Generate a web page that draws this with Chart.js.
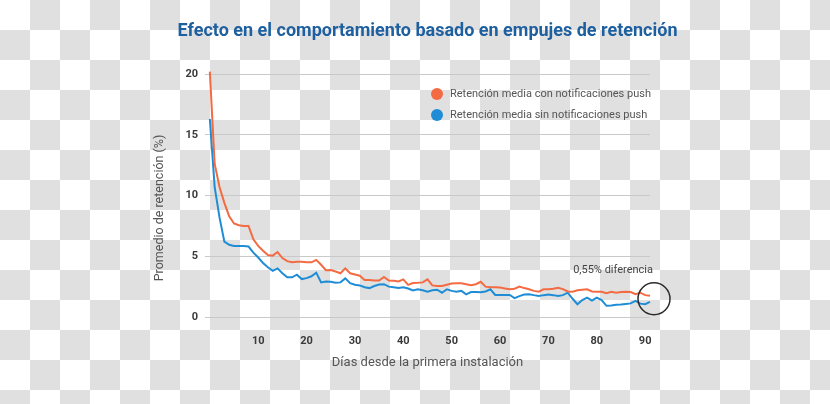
<!DOCTYPE html>
<html>
<head>
<meta charset="utf-8">
<script src="https://cdn.jsdelivr.net/npm/chart.js@4.4.0/dist/chart.umd.min.js"></script>
<style>
html, body {
    margin: 0;
    padding: 0;
}
body {
    width: 830px;
    height: 404px;
    background: repeating-conic-gradient(#e0e0e0 0 25%, #ffffff 0 50%) 0 0 / 60px 60px;
    overflow: hidden;
}
#wrap {
    width: 830px;
    height: 404px;
}
</style>
</head>
<body>
<div id="wrap"><canvas id="retencionChart" width="830" height="404"></canvas></div>
<script>
// dias desde la instalacion (0..91)
let dias = []
for (let d = 0; d <= 91; d++) dias.push(d)

let conPush = [20.2, 12.6, 10.7, 9.4, 8.3, 7.7, 7.55, 7.5, 7.5, 6.4,
    5.85, 5.45, 5.1, 5.05, 5.35, 4.85, 4.6, 4.5, 4.55, 4.55,
    4.5, 4.5, 4.7, 4.3, 3.85, 3.87, 3.75, 3.6, 4.0, 3.6,
    3.5, 3.4, 3.05, 3.05, 3.0, 3.0, 3.3, 3.0, 2.98, 2.92,
    3.1, 2.65, 2.8, 2.82, 2.85, 3.1, 2.6, 2.55, 2.55, 2.65,
    2.75, 2.78, 2.78, 2.7, 2.62, 2.7, 2.9, 2.5, 2.45, 2.44,
    2.42, 2.35, 2.28, 2.33, 2.5, 2.38, 2.28, 2.15, 2.08, 2.28,
    2.28, 2.32, 2.41, 2.3, 2.1, 2.08, 2.2, 2.25, 2.28, 2.1,
    2.08, 2.08, 1.95, 2.08, 2.0, 2.05, 2.08, 2.05, 1.88, 2.0,
    1.8, 1.75]

let sinPush = [16.3, 10.7, 8.2, 6.2, 5.95, 5.85, 5.85, 5.85, 5.8, 5.3,
    4.9, 4.45, 4.1, 3.8, 4.0, 3.6, 3.27, 3.27, 3.48, 3.12,
    3.2, 3.35, 3.65, 2.85, 2.93, 2.9, 2.82, 2.85, 3.18, 2.78,
    2.65, 2.6, 2.45, 2.38, 2.55, 2.68, 2.7, 2.5, 2.45, 2.38,
    2.45, 2.35, 2.18, 2.28, 2.2, 2.08, 2.2, 2.25, 2.0, 2.28,
    2.15, 2.08, 2.15, 1.87, 2.05, 2.05, 2.03, 2.1, 2.28, 1.82,
    1.82, 1.81, 1.81, 1.55, 1.72, 1.85, 1.88, 1.8, 1.73, 1.8,
    1.85, 1.8, 1.73, 1.8, 2.0, 1.5, 1.05, 1.4, 1.6, 1.35,
    1.6, 1.4, 0.92, 0.95, 1.0, 1.02, 1.07, 1.12, 1.32, 1.1,
    1.05, 1.25]

let seriesNames = ["Retención media con notificaciones push", "Retención media sin notificaciones push"]
let lineColors = ["#f26b43", "#1f8dd6"]
let xTicks = [10, 20, 30, 40, 50, 60, 70, 80, 90]
let yTicks = [0, 5, 10, 15, 20]
let titulo = "Efecto en el comportamiento basado en empujes de retención"
let diferencia = "0,55% diferencia"

const fontFam = "Roboto, 'Liberation Sans', sans-serif"

// leyenda dentro del area del grafico
const insideLegend = {
    id: "insideLegend",
    afterDraw(chart) {
        const ctx = chart.ctx
        const x = chart.chartArea.left + 232
        let y = chart.chartArea.top + 26
        ctx.save()
        ctx.font = "11px " + fontFam
        ctx.textBaseline = "middle"
        chart.data.datasets.forEach(ds => {
            ctx.fillStyle = ds.borderColor
            ctx.beginPath()
            ctx.arc(x, y, 6, 0, Math.PI * 2)
            ctx.fill()
            ctx.fillStyle = "#555555"
            ctx.fillText(ds.label, x + 13, y)
            y += 21
        })
        ctx.restore()
    }
}

// titulo, titulo del eje y y la anotacion del final
const extras = {
    id: "extras",
    afterDraw(chart) {
        const ctx = chart.ctx
        const area = chart.chartArea
        const xs = chart.scales.x
        const ys = chart.scales.y

        ctx.save()
        ctx.fillStyle = "#1d5f9f"
        ctx.font = "bold 18px " + fontFam
        ctx.textAlign = "center"
        ctx.textBaseline = "middle"
        ctx.fillText(titulo, (area.left + area.right) / 2, 31)
        ctx.restore()

        ctx.save()
        ctx.fillStyle = "#555555"
        ctx.font = "12.5px " + fontFam
        ctx.textAlign = "center"
        ctx.textBaseline = "middle"
        ctx.translate(160, 208)
        ctx.rotate(-Math.PI / 2)
        ctx.fillText("Promedio de retención (%)", 0, 0)
        ctx.restore()

        let last = dias.length - 1
        let cx = xs.getPixelForValue(dias[last]) + 4
        let cy = ys.getPixelForValue((conPush[last] + sinPush[last]) / 2)
        ctx.save()
        ctx.strokeStyle = "#2b2b2b"
        ctx.lineWidth = 1.5
        ctx.beginPath()
        ctx.arc(cx, cy, 16, 0, Math.PI * 2)
        ctx.stroke()
        ctx.fillStyle = "#444444"
        ctx.font = "11px " + fontFam
        ctx.textAlign = "right"
        ctx.textBaseline = "middle"
        ctx.fillText(diferencia, cx - 1, cy - 29)
        ctx.restore()
    }
}

new Chart("retencionChart", {
    type: "line",
    data: {
        labels: dias,
        datasets: [{
            label: seriesNames[0],
            data: dias.map((d, i) => ({x: d, y: conPush[i]})),
            borderColor: lineColors[0],
            backgroundColor: lineColors[0],
            borderWidth: 2,
            pointRadius: 0,
            tension: 0,
            fill: false,
            clip: false
        }, {
            label: seriesNames[1],
            data: dias.map((d, i) => ({x: d, y: sinPush[i]})),
            borderColor: lineColors[1],
            backgroundColor: lineColors[1],
            borderWidth: 2,
            pointRadius: 0,
            tension: 0,
            fill: false,
            clip: false
        }]
    },
    options: {
        responsive: false,
        animation: false,
        layout: {
            padding: {top: 68, left: 150, right: 180, bottom: 27}
        },
        plugins: {
            legend: {display: false},
            tooltip: {enabled: false},
            title: {display: false}
        },
        scales: {
            x: {
                type: "linear",
                min: -1,
                max: 91,
                afterBuildTicks: scale => {
                    scale.ticks = xTicks.map(v => ({value: v}))
                },
                afterFit: scale => {
                    scale.height = 60
                },
                grid: {display: false},
                border: {display: false},
                ticks: {
                    color: "#3a3a3a",
                    padding: 10,
                    maxRotation: 0,
                    font: {family: fontFam, size: 11, weight: "bold"}
                },
                title: {
                    display: true,
                    text: "Días desde la primera instalación",
                    color: "#555555",
                    font: {family: fontFam, size: 13},
                    padding: {top: 4, bottom: 6}
                }
            },
            y: {
                min: 0,
                max: 20.5,
                afterBuildTicks: scale => {
                    scale.ticks = yTicks.map(v => ({value: v}))
                },
                afterFit: scale => {
                    scale.width = 55
                },
                grid: {color: "#c9c9c9", drawTicks: false},
                border: {display: false},
                ticks: {
                    color: "#3a3a3a",
                    padding: 7,
                    font: {family: fontFam, size: 11, weight: "bold"}
                }
            }
        }
    },
    plugins: [insideLegend, extras]
})
</script>
</body>
</html>
